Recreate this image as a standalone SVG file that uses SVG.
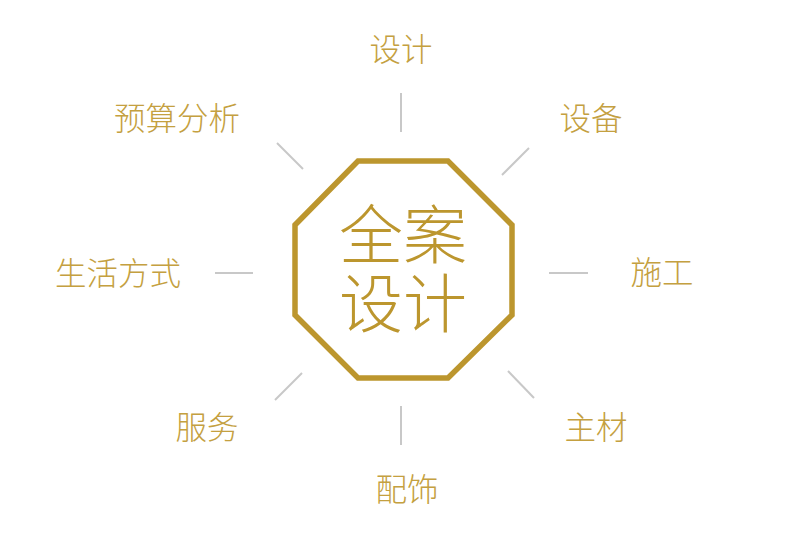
<svg xmlns="http://www.w3.org/2000/svg" width="800" height="533" viewBox="0 0 800 533">
<style>
.lbl{font-family:"Noto Sans CJK SC","Noto Sans",sans-serif;font-size:31.5px;font-weight:300;fill:#C4A040;text-anchor:middle}
.ctr{font-family:"Noto Sans CJK SC","Noto Sans",sans-serif;font-size:64px;font-weight:300;fill:#BC962E;text-anchor:middle}
.ln{stroke:#C8C8C8;stroke-width:2;fill:none}
</style>
<rect width="800" height="533" fill="#FFFFFF"/>
<g id="connectors">
<line class="ln" x1="401" y1="93" x2="401" y2="132"/>
<line class="ln" x1="277" y1="143" x2="303" y2="169"/>
<line class="ln" x1="529" y1="148" x2="502" y2="175"/>
<line class="ln" x1="215" y1="273" x2="253" y2="273"/>
<line class="ln" x1="549" y1="273" x2="588" y2="273"/>
<line class="ln" x1="302" y1="373" x2="275" y2="400"/>
<line class="ln" x1="508" y1="371" x2="534" y2="398"/>
<line class="ln" x1="401" y1="406" x2="401" y2="445"/>
</g>
<g id="center">
<polygon points="358,161 448,161 512,225 512,315 448,378 358,378 295,315 295,225" fill="none" stroke="#BC962E" stroke-width="5.5"/>
<text class="ctr" x="403" y="258">全案</text>
<text class="ctr" x="403" y="327">设计</text>
</g>
<g id="n-sheji"><text class="lbl" x="401" y="61">设计</text></g>
<g id="n-yusuan"><text class="lbl" x="177" y="130">预算分析</text></g>
<g id="n-shebei"><text class="lbl" x="591" y="130">设备</text></g>
<g id="n-shenghuo"><text class="lbl" x="118" y="285">生活方式</text></g>
<g id="n-shigong"><text class="lbl" x="662" y="284">施工</text></g>
<g id="n-fuwu"><text class="lbl" x="207" y="439">服务</text></g>
<g id="n-zhucai"><text class="lbl" x="596" y="439">主材</text></g>
<g id="n-peishi"><text class="lbl" x="407" y="501">配饰</text></g>
</svg>
